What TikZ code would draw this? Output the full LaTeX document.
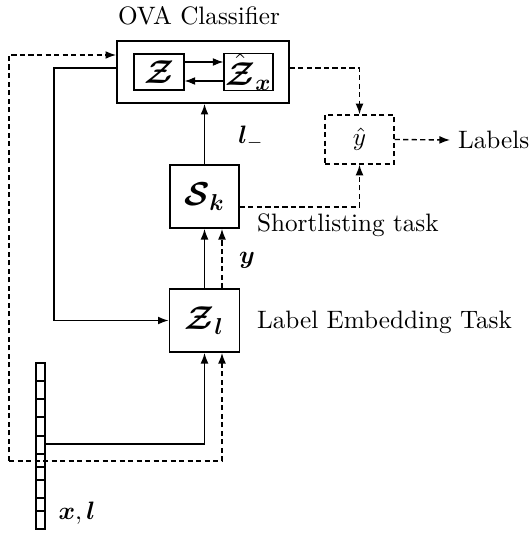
\documentclass[tikz,border=0pt]{standalone}
\usepackage{amsmath,bm}
\usetikzlibrary{arrows.meta}
\newcommand\pxu{0.4348pt}
\begin{document}
\begin{tikzpicture}[x=0.4348pt,y=-0.4348pt,
  font=\fontsize{10.95}{13.6}\selectfont,
  box/.style 2 args={draw,line width=0.8pt,minimum width=#1*\pxu,minimum height=#2*\pxu,inner sep=0pt},
  ibox/.style 2 args={draw,line width=0.5pt,minimum width=#1*\pxu,minimum height=#2*\pxu,inner sep=0pt},
  arr/.style={-{Latex[length=4.6pt,width=3.4pt]}},
  conn/.style={line width=0.6pt},
  dsh/.style={line width=0.6pt,dash pattern=on 2.2pt off 1.5pt},
  lbl/.style={inner sep=3.33pt}]
\useasboundingbox (0,0) rectangle (529,533);
% nodes
\node[box={172}{62}] (ova) at (203,72) {};
\node[ibox={50}{36}] (z) at (159,72) {$\Large\bm{\mathcal{Z}}$};
\node[ibox={49}{36}] (zx) at (248.5,72) {\raisebox{-1.5pt}{$\Large\hat{\bm{\mathcal{Z}}}_{\bm{x}}$}};
\node[lbl] (ovat) at (199,16) {OVA Classifier};
\node[draw,dsh,minimum width=69*\pxu,minimum height=49*\pxu,inner sep=0pt] (yhat) at (359.5,139.5) {$\large\hat{y}$};
\node[box={69}{63}] (sk) at (204.5,196.5) {$\Large\bm{\mathcal{S}_k}$};
\node[box={70}{63}] (zl) at (204.5,320.5) {$\Large\bm{\mathcal{Z}_l}$};
\node[draw,line width=0.6pt,minimum width=9*\pxu,minimum height=166*\pxu,inner sep=0pt] (vec) at (40.5,446) {};
\foreach \yy in {381,399,417,436,454,467,480,498,511}
  \draw[line width=0.6pt] (36,\yy) -- (45,\yy);
\node[lbl,anchor=west] (labels) at (450,140) {Labels};
\node[lbl,anchor=west] (short) at (249,225) {Shortlisting task};
\node[lbl,anchor=west] (embed) at (249,322) {Label Embedding Task};
\node[lbl] (lminus) at (251,138) {$\large\bm{l}_-$};
\node[lbl] (ylab) at (247,260) {$\large\bm{y}$};
\node[lbl] (xl) at (77,513) {$\large\bm{x},\bm{l}$};
% coordinates
\coordinate (dl) at (9,55);
\coordinate (db) at (9,461);
\coordinate (sl) at (54,68);
\coordinate (vs) at (45,444);
% connectors
\draw[dsh,arr] (db) -- (dl) -- (dl -| ova.west);
\draw[dsh,arr] (db) -| ([xshift=17.5*\pxu]zl.south);
\draw[conn,arr] (sl -| ova.west) -- (sl) |- (zl.west);
\draw[conn,arr] (vec.east |- vs) -| (zl.south);
\draw[conn,arr] (zl.north) -- (sk.south);
\draw[dsh,arr] ([xshift=17.5*\pxu]zl.north) -- ([xshift=17.5*\pxu]sk.south);
\draw[conn,arr] (sk.north) -- (sk.north |- ova.south);
\draw[line width=0.5pt,arr] ([yshift=10*\pxu]z.east) -- ([yshift=10*\pxu]zx.west);
\draw[line width=0.5pt,arr] ([yshift=-9*\pxu]zx.west) -- ([yshift=-9*\pxu]z.east);
\draw[dsh,arr] ([yshift=4*\pxu]ova.east) -| (yhat.north);
\draw[dsh,arr] ([yshift=-10.5*\pxu]sk.east) -| (yhat.south);
\draw[dsh,arr] (yhat.east) -- (labels.west);
\end{tikzpicture}
\end{document}
